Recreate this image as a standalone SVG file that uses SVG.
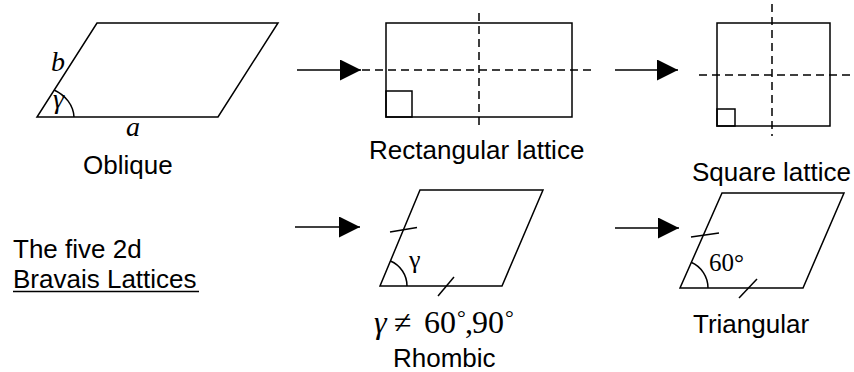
<svg xmlns="http://www.w3.org/2000/svg" width="854" height="372" viewBox="0 0 854 372">
<style>
.s{fill:none;stroke:#000;stroke-width:1.5}
.d{fill:none;stroke:#000;stroke-width:1.5;stroke-dasharray:8,5}
.t{font-family:"Liberation Sans",Arial,sans-serif;font-size:26px;fill:#000}
.m{font-family:"Liberation Serif","Times New Roman",serif;fill:#000}
</style>
<defs>
<marker id="ah" markerWidth="21" markerHeight="21" refX="21" refY="10.5" orient="auto" markerUnits="userSpaceOnUse">
<path d="M0,0 L21,10.5 L0,21 Z" fill="#000"/>
</marker>
</defs>
<rect width="854" height="372" fill="#fff"/>

<g id="oblique">
<path class="s" d="M37,117 L218,117 L278,23 L97,23 Z"/>
<path class="s" d="M74,117 A37,32 0 0 0 54,90"/>
<text class="m" x="53" y="108" font-size="28" font-style="italic">γ</text>
<text class="m" x="51" y="71" font-size="28" font-style="italic">b</text>
<text class="m" x="126" y="136" font-size="28" font-style="italic">a</text>
<text class="t" x="83" y="174">Oblique</text>
</g>

<g id="rectangular">
<rect class="s" x="386" y="23" width="186" height="94"/>
<rect class="s" x="386" y="91" width="26" height="26"/>
<line class="d" x1="362" y1="70" x2="594" y2="70"/>
<line class="d" x1="479" y1="13" x2="479" y2="127"/>
<text class="t" x="369" y="159">Rectangular lattice</text>
</g>

<g id="square">
<rect class="s" x="717" y="23" width="113" height="103"/>
<rect class="s" x="717" y="109" width="18" height="17"/>
<line class="d" x1="699" y1="75" x2="852" y2="75"/>
<line class="d" x1="772" y1="4" x2="772" y2="136"/>
<text class="t" x="692" y="181">Square lattice</text>
</g>

<g id="title">
<text class="t" x="13" y="258">The five 2d</text>
<text class="t" x="13" y="288">Bravais Lattices</text>
<line x1="13" y1="291.5" x2="199" y2="291.5" stroke="#000" stroke-width="1.5"/>
</g>

<g id="rhombic">
<path class="s" d="M380,286 L502,286 L543,190 L420,190 Z"/>
<line class="s" x1="390" y1="232" x2="417" y2="227.5"/>
<line class="s" x1="438" y1="296" x2="454" y2="277"/>
<path class="s" d="M407,286 A27,27 0 0 0 390.4,261"/>
<text class="m" x="409" y="268" font-size="26">γ</text>
<text class="m" y="333" font-size="32"><tspan x="374" font-style="italic">γ</tspan><tspan x="394">≠</tspan><tspan x="424">60</tspan><tspan x="457" font-size="22" dy="-8">°</tspan><tspan x="465" dy="8">,</tspan><tspan x="472">90</tspan><tspan x="505" font-size="22" dy="-8">°</tspan></text>
<text class="t" x="393" y="367">Rhombic</text>
</g>

<g id="triangular">
<path class="s" d="M680,288 L803,288 L844,193 L722,193 Z"/>
<line class="s" x1="691" y1="237" x2="719" y2="233"/>
<line class="s" x1="739" y1="298" x2="757" y2="279"/>
<path class="s" d="M708,288 A28,28 0 0 0 691.1,262.3"/>
<text class="m" x="709" y="271" font-size="25">60°</text>
<text class="t" x="693" y="333">Triangular</text>
</g>

<g id="connectors">
<line class="s" x1="297" y1="70" x2="361" y2="70" marker-end="url(#ah)"/>
<line class="s" x1="615" y1="70" x2="678" y2="70" marker-end="url(#ah)"/>
<line class="s" x1="295" y1="227" x2="360" y2="227" marker-end="url(#ah)"/>
<line class="s" x1="615" y1="228" x2="679" y2="228" marker-end="url(#ah)"/>
</g>
</svg>
